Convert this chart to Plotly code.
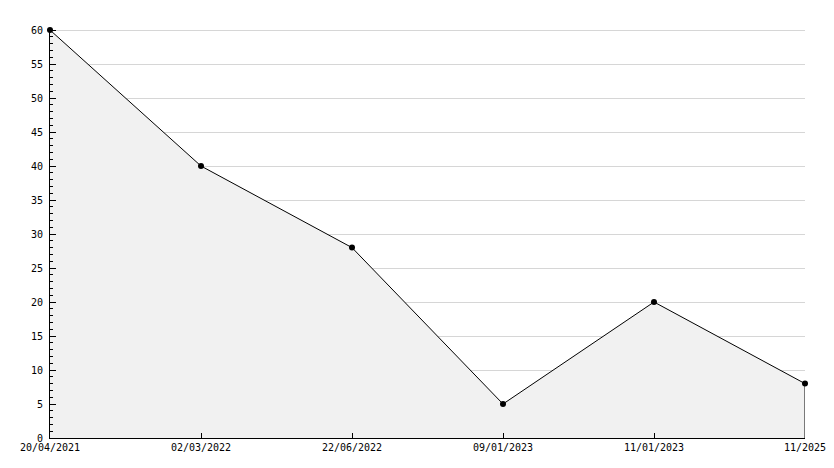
import plotly.graph_objects as go

dates = ["20/04/2021", "02/03/2022", "22/06/2022", "09/01/2023", "11/01/2023", "11/2025"]
values = [60, 40, 28, 5, 20, 8]

fig = go.Figure()
fig.add_trace(go.Scatter(
    x=dates, y=values, mode="lines+markers", fill="tozeroy",
    fillcolor="#f1f1f1",
    line=dict(color="#000000", width=1),
    marker=dict(symbol="circle", size=6, color="#000000", line=dict(width=0)),
    cliponaxis=False,
    hoverinfo="x+y", showlegend=False,
))
# right edge of the filled area
fig.add_trace(go.Scatter(
    x=[dates[-1], dates[-1]], y=[0, values[-1]], mode="lines",
    line=dict(color="#000000", width=1), showlegend=False, hoverinfo="skip",
    cliponaxis=False,
))

font = dict(family="DejaVu Sans Mono", size=10, color="#000000")
fig.update_layout(
    width=834, height=468,
    margin=dict(l=50, r=29, t=28, b=30, autoexpand=False),
    paper_bgcolor="#ffffff", plot_bgcolor="#ffffff",
    font=font,
    xaxis=dict(
        type="category", range=[0, len(dates) - 1],
        showgrid=False, zeroline=False, automargin=False,
        showline=True, linecolor="#000000", linewidth=1,
        ticks="inside", ticklen=5, tickcolor="#000000",
        tickfont=font,
    ),
    yaxis=dict(
        range=[0, 60.3], dtick=5, tick0=0, automargin=False,
        showgrid=True, gridcolor="#d6d6d6", gridwidth=1,
        zeroline=False,
        showline=True, linecolor="#000000", linewidth=1,
        ticks="inside", ticklen=6, tickcolor="#000000",
        ticklabelstandoff=4,
        minor=dict(dtick=1, ticks="inside", ticklen=3, tickcolor="#000000", showgrid=False),
        tickfont=font,
    ),
)
fig.write_html("out.html", config={"displayModeBar": False},
               post_script="document.body.style.margin='0';")
